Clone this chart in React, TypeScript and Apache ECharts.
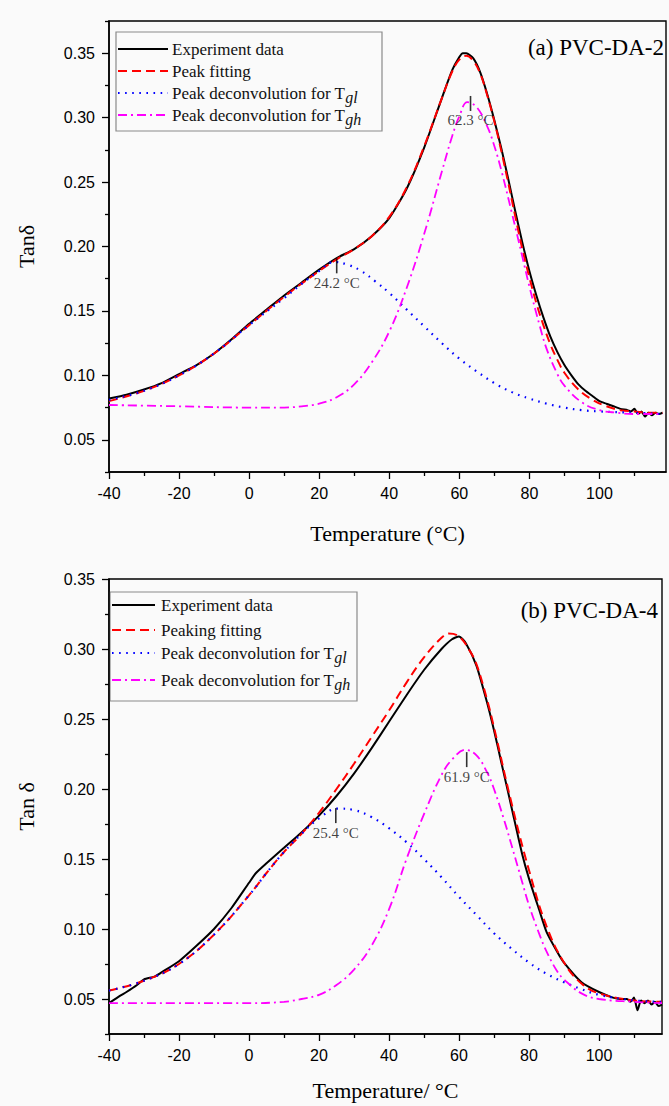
import React, { useEffect, useRef } from 'react';
import * as echarts from 'echarts';

// ---------- Panel (a) PVC-DA-2 ----------
const aExpT = [-40, -35, -30, -25, -20, -15, -10, -5, 0, 5, 10, 15, 20, 25, 30, 35, 40, 45, 50, 55, 58, 60, 61, 62, 64, 66, 68, 70, 72, 74, 76, 78, 80, 82, 84, 86, 88, 90, 92, 94, 96, 98, 100, 102, 104, 106, 108, 109, 110, 111, 112, 113, 114, 115, 116, 117, 118];
const aExpV = [0.082, 0.085, 0.089, 0.094, 0.101, 0.108, 0.117, 0.128, 0.140, 0.151, 0.162, 0.172, 0.182, 0.191, 0.198, 0.208, 0.222, 0.245, 0.277, 0.315, 0.337, 0.347, 0.350, 0.350, 0.346, 0.335, 0.318, 0.298, 0.276, 0.252, 0.227, 0.203, 0.181, 0.162, 0.145, 0.130, 0.118, 0.108, 0.100, 0.093, 0.088, 0.084, 0.080, 0.078, 0.076, 0.074, 0.073, 0.072, 0.074, 0.070, 0.072, 0.068, 0.071, 0.069, 0.071, 0.070, 0.071];
const aFitT = [-40, -30, -20, -10, 0, 10, 20, 25, 30, 35, 40, 45, 50, 55, 58, 60, 62, 64, 66, 68, 70, 72, 74, 76, 78, 80, 82, 84, 86, 88, 90, 94, 98, 102, 106, 110, 114, 118];
const aFitV = [0.080, 0.088, 0.100, 0.117, 0.139, 0.161, 0.181, 0.190, 0.198, 0.208, 0.223, 0.246, 0.278, 0.315, 0.336, 0.345, 0.348, 0.344, 0.334, 0.317, 0.297, 0.274, 0.249, 0.223, 0.198, 0.176, 0.156, 0.139, 0.124, 0.112, 0.102, 0.089, 0.081, 0.076, 0.073, 0.072, 0.071, 0.071];
const aGlT = [-40, -30, -20, -10, 0, 10, 15, 20, 24.2, 28, 32, 36, 40, 45, 50, 55, 60, 65, 70, 75, 80, 85, 90, 95, 100, 110, 118];
const aGlV = [0.081, 0.088, 0.100, 0.117, 0.139, 0.160, 0.171, 0.181, 0.188, 0.186, 0.181, 0.173, 0.164, 0.151, 0.138, 0.125, 0.113, 0.103, 0.094, 0.087, 0.082, 0.078, 0.075, 0.073, 0.072, 0.071, 0.070];
const aGhT = [-40, -20, 0, 10, 15, 20, 25, 30, 35, 40, 45, 50, 55, 58, 60, 62.3, 65, 68, 70, 72, 75, 78, 80, 83, 85, 88, 90, 95, 100, 105, 110, 118];
const aGhV = [0.077, 0.076, 0.075, 0.075, 0.076, 0.078, 0.083, 0.093, 0.110, 0.134, 0.168, 0.210, 0.258, 0.286, 0.301, 0.312, 0.308, 0.293, 0.278, 0.259, 0.226, 0.192, 0.169, 0.138, 0.120, 0.101, 0.092, 0.079, 0.073, 0.071, 0.070, 0.070];
const aPeakT = [25.0, 63.2];
const aPeakV = [0.185, 0.311];
const aPeakText = ['24.2 °C', '62.3 °C'];

// ---------- Panel (b) PVC-DA-4 ----------
const bExpT = [-40, -37, -35, -32, -30, -27, -25, -20, -15, -10, -5, 0, 2, 5, 10, 15, 20, 25, 30, 35, 40, 45, 50, 55, 58, 60, 62, 65, 68, 70, 72, 75, 78, 80, 83, 85, 88, 90, 95, 100, 104, 106, 108, 109, 110, 111, 112, 113, 114, 115, 116, 117, 118];
const bExpV = [0.047, 0.052, 0.055, 0.060, 0.064, 0.066, 0.069, 0.077, 0.088, 0.100, 0.115, 0.133, 0.140, 0.147, 0.158, 0.169, 0.181, 0.195, 0.211, 0.229, 0.248, 0.267, 0.285, 0.300, 0.307, 0.309, 0.304, 0.288, 0.262, 0.242, 0.220, 0.187, 0.154, 0.136, 0.113, 0.098, 0.084, 0.076, 0.062, 0.055, 0.051, 0.050, 0.050, 0.048, 0.051, 0.042, 0.049, 0.047, 0.049, 0.046, 0.048, 0.045, 0.046];
const bFitT = [-40, -30, -20, -10, 0, 5, 10, 15, 20, 25, 30, 35, 40, 45, 50, 55, 57, 60, 63, 65, 68, 70, 75, 80, 85, 90, 95, 100, 110, 118];
const bFitV = [0.056, 0.063, 0.075, 0.096, 0.124, 0.140, 0.155, 0.168, 0.183, 0.200, 0.218, 0.237, 0.256, 0.276, 0.294, 0.308, 0.311, 0.309, 0.299, 0.289, 0.264, 0.244, 0.190, 0.142, 0.102, 0.076, 0.061, 0.054, 0.049, 0.048];
const bGlT = [-40, -30, -20, -10, 0, 5, 10, 15, 20, 25.4, 30, 35, 40, 45, 50, 55, 60, 65, 70, 75, 80, 85, 90, 95, 100, 110, 118];
const bGlV = [0.056, 0.063, 0.075, 0.096, 0.124, 0.140, 0.155, 0.168, 0.179, 0.186, 0.185, 0.180, 0.172, 0.162, 0.150, 0.137, 0.123, 0.110, 0.097, 0.086, 0.076, 0.068, 0.062, 0.057, 0.053, 0.049, 0.048];
const bGhT = [-40, 0, 10, 15, 20, 25, 30, 35, 40, 45, 50, 55, 58, 61.9, 65, 68, 70, 73, 75, 78, 80, 83, 85, 88, 90, 95, 100, 110, 118];
const bGhV = [0.047, 0.047, 0.048, 0.050, 0.053, 0.060, 0.071, 0.088, 0.114, 0.150, 0.182, 0.210, 0.221, 0.228, 0.224, 0.212, 0.200, 0.177, 0.160, 0.134, 0.117, 0.096, 0.084, 0.070, 0.064, 0.054, 0.050, 0.048, 0.047];
const bPeakT = [24.8, 62.2];
const bPeakV = [0.181, 0.221];
const bPeakText = ['25.4 °C', '61.9 °C'];

// ---------- Axis ticks ----------
const xMajor = [-40, -20, 0, 20, 40, 60, 80, 100];
const xMinor = [-30, -10, 10, 30, 50, 70, 90, 110];
const yMajor = [0.05, 0.10, 0.15, 0.20, 0.25, 0.30, 0.35];
const yMinor = [0.025, 0.075, 0.125, 0.175, 0.225, 0.275, 0.325, 0.375];

const SERIF = '"Liberation Serif", "Times New Roman", serif';
const SANS = '"Liberation Sans", Arial, sans-serif';

const pairs = (t: number[], v: number[]) => t.map((x, i) => [x, v[i]]);

function mainX(grid: number, name: string, gap: number, max: number) {
  return {
    type: 'value', gridIndex: grid, min: -40, max, position: 'bottom',
    axisLine: { show: true, onZero: false, lineStyle: { color: '#000', width: 1.5 } },
    axisTick: { show: true, inside: false, length: 7, customValues: xMajor, lineStyle: { color: '#000', width: 1.3 } },
    axisLabel: { show: true, customValues: xMajor, fontSize: 16, color: '#000', fontFamily: SANS, margin: 13 },
    splitLine: { show: false },
    name, nameLocation: 'middle', nameGap: gap,
    nameTextStyle: { fontFamily: SERIF, fontSize: 22, color: '#000' },
  };
}
function minorX(grid: number, max: number) {
  return {
    type: 'value', gridIndex: grid, min: -40, max, position: 'bottom',
    axisLine: { show: false, onZero: false },
    axisTick: { show: true, inside: false, length: 4, customValues: xMinor, lineStyle: { color: '#000', width: 1.3 } },
    axisLabel: { show: false }, splitLine: { show: false },
  };
}
function mainY(grid: number, name: string, min: number, max: number) {
  return {
    type: 'value', gridIndex: grid, min, max, position: 'left',
    axisLine: { show: true, onZero: false, lineStyle: { color: '#000', width: 1.5 } },
    axisTick: { show: true, inside: false, length: 7, customValues: yMajor, lineStyle: { color: '#000', width: 1.3 } },
    axisLabel: { show: true, customValues: yMajor, fontSize: 16, color: '#000', fontFamily: SANS, margin: 14, formatter: (v: number) => v.toFixed(2) },
    splitLine: { show: false },
    name, nameLocation: 'middle', nameGap: 72,
    nameTextStyle: { fontFamily: SERIF, fontSize: 22, color: '#000' },
  };
}
function minorY(grid: number, min: number, max: number) {
  return {
    type: 'value', gridIndex: grid, min, max, position: 'left',
    axisLine: { show: false, onZero: false },
    axisTick: { show: true, inside: false, length: 4, customValues: yMinor, lineStyle: { color: '#000', width: 1.3 } },
    axisLabel: { show: false }, splitLine: { show: false },
  };
}

const styles = {
  exp: { color: '#000000', width: 2, type: 'solid' as any },
  fit: { color: '#ff0000', width: 2, type: [9, 5] as any },
  gl: { color: '#0000ff', width: 2.2, type: [1.6, 5.5] as any },
  gh: { color: '#ff00ff', width: 1.8, type: [9, 4, 2, 4] as any },
};

function lineSeries(name: string, data: number[][], st: any, xi: number, yi: number, smooth: number) {
  return {
    type: 'line', name, data, xAxisIndex: xi, yAxisIndex: yi, showSymbol: false, symbol: 'none', smooth,
    lineStyle: { color: st.color, width: st.width, type: st.type }, itemStyle: { color: st.color },
    silent: true, z: 3,
  };
}
function peakSeries(t: number[], v: number[], txt: string[], xi: number, yi: number) {
  return {
    type: 'scatter', xAxisIndex: xi, yAxisIndex: yi, symbol: 'rect', symbolSize: [1.6, 15],
    itemStyle: { color: '#000' }, z: 5,
    data: t.map((x, i) => ({ value: [x, v[i]], label: { formatter: txt[i] } })),
    label: { show: true, position: 'bottom', distance: 2, fontFamily: SERIF, fontSize: 15, color: '#111' },
  };
}

function legendGraphic(x: number, y: number, w: number, h: number, rows: number[], lx0: number, lx1: number, tx: number, labels: string[]) {
  const keys = ['exp', 'fit', 'gl', 'gh'];
  const children: any[] = [
    { type: 'rect', shape: { x, y, width: w, height: h }, style: { fill: 'transparent', stroke: '#8a8a8a', lineWidth: 1.2 } },
  ];
  keys.forEach((k, i) => {
    const st: any = (styles as any)[k];
    children.push({
      type: 'line', shape: { x1: lx0, y1: rows[i], x2: lx1, y2: rows[i] },
      style: { stroke: st.color, lineWidth: st.width, lineDash: Array.isArray(st.type) ? st.type : null },
    });
    children.push({
      type: 'text', x: tx, y: rows[i],
      style: {
        text: labels[i], fill: '#111', fontFamily: SERIF, fontSize: 17, verticalAlign: 'middle', align: 'left',
        rich: { s: { fontFamily: SERIF, fontSize: 16, fontStyle: 'italic', fill: '#111', padding: [9, 0, 0, 0] } },
      },
    });
  });
  return { type: 'group', children };
}

export default function App() {
  const ref = useRef<HTMLDivElement>(null);
  useEffect(() => {
    if (!ref.current) return;
    const chart = echarts.init(ref.current, undefined, { renderer: 'svg' });
    const aMin = 0.025, aMax = 0.375, bMin = 0.025, bMax = 0.35, aXMax = 119, bXMax = 118;
    const option: any = {
      animation: false,
      backgroundColor: '#fafafa',
      grid: [
        { left: 109, top: 21, width: 557, height: 451, show: true, borderColor: '#000', borderWidth: 1.4, backgroundColor: 'transparent' },
        { left: 109, top: 579, width: 553, height: 455, show: true, borderColor: '#000', borderWidth: 1.4, backgroundColor: 'transparent' },
      ],
      xAxis: [mainX(0, 'Temperature (°C)', 50, aXMax), minorX(0, aXMax), mainX(1, 'Temperature/ °C', 45, bXMax), minorX(1, bXMax)],
      yAxis: [mainY(0, 'Tanδ', aMin, aMax), minorY(0, aMin, aMax), mainY(1, 'Tan δ', bMin, bMax), minorY(1, bMin, bMax)],
      series: [
        lineSeries('Experiment data', pairs(aExpT, aExpV), styles.exp, 0, 0, 0.2),
        lineSeries('Peak fitting', pairs(aFitT, aFitV), styles.fit, 0, 0, 0.4),
        lineSeries('Peak deconvolution for Tgl', pairs(aGlT, aGlV), styles.gl, 0, 0, 0.4),
        lineSeries('Peak deconvolution for Tgh', pairs(aGhT, aGhV), styles.gh, 0, 0, 0.4),
        peakSeries(aPeakT, aPeakV, aPeakText, 0, 0),
        lineSeries('Experiment data (b)', pairs(bExpT, bExpV), styles.exp, 2, 2, 0.2),
        lineSeries('Peaking fitting', pairs(bFitT, bFitV), styles.fit, 2, 2, 0.4),
        lineSeries('Peak deconvolution for Tgl (b)', pairs(bGlT, bGlV), styles.gl, 2, 2, 0.4),
        lineSeries('Peak deconvolution for Tgh (b)', pairs(bGhT, bGhV), styles.gh, 2, 2, 0.4),
        peakSeries(bPeakT, bPeakV, bPeakText, 2, 2),
      ],
      graphic: [
        legendGraphic(116, 32, 266, 99, [49, 71, 93, 115], 118, 168, 172,
          ['Experiment data', 'Peak fitting', 'Peak deconvolution for T{s|gl}', 'Peak deconvolution for T{s|gh}']),
        legendGraphic(110, 592, 247, 109, [605, 630, 653, 680], 112, 155, 161,
          ['Experiment data', 'Peaking fitting', 'Peak deconvolution for T{s|gl}', 'Peak deconvolution for T{s|gh}']),
        { type: 'text', x: 664, y: 47, style: { text: '(a) PVC-DA-2', fill: '#000', fontFamily: SERIF, fontSize: 23, align: 'right', verticalAlign: 'middle' } },
        { type: 'text', x: 658, y: 610, style: { text: '(b) PVC-DA-4', fill: '#000', fontFamily: SERIF, fontSize: 23, align: 'right', verticalAlign: 'middle' } },
      ],
    };
    chart.setOption(option);
    return () => chart.dispose();
  }, []);
  return <div ref={ref} style={{ position: 'absolute', left: 0, top: 0, width: 669, height: 1106 }} />;
}
